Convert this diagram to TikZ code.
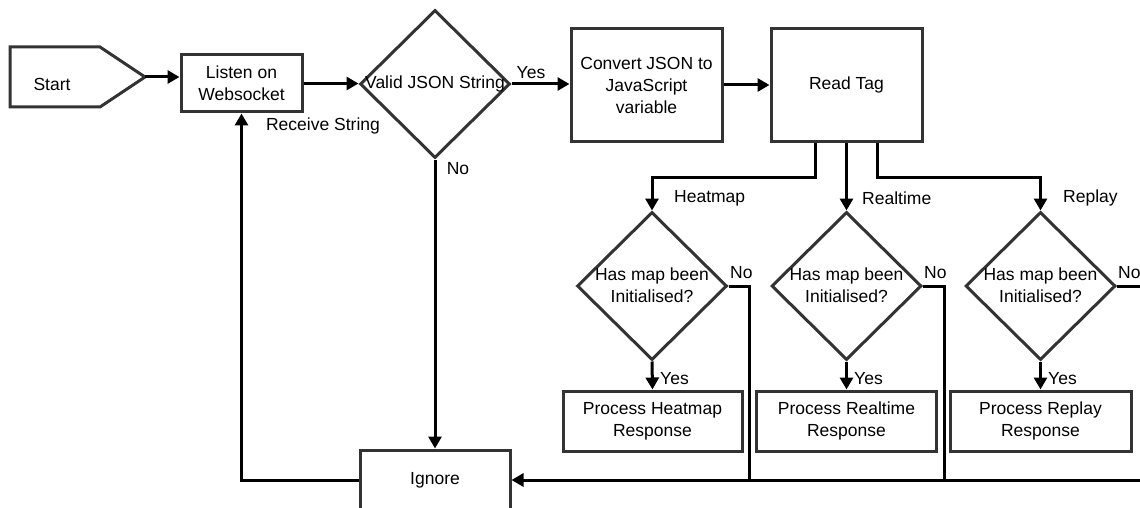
\documentclass[tikz,border=0pt]{standalone}
\usepackage{fontspec}
\setmainfont{Liberation Sans}
\usetikzlibrary{arrows.meta,shapes.geometric}
\begin{document}
\begin{tikzpicture}[x=1pt,y=-1pt,
  font=\fontsize{17.5}{22}\selectfont,
  box/.style={draw=black!80, line width=3pt, rectangle, align=center, inner sep=0pt},
  decision/.style={draw=black!80, line width=3pt, diamond, minimum width=150pt, minimum height=148pt, inner sep=0pt},
  flow/.style={line width=3pt, draw=black},
  arr/.style={flow, -{Triangle[length=12pt,width=13pt]}},
  lbl/.style={inner sep=0pt}]
\useasboundingbox (0,0) rectangle (1140,508);
\clip (0,0) rectangle (1140,508);

% start terminal
\draw[draw=black!80, line width=3pt] (10,47) -- (100,47) -- (145,77) -- (100,107) -- (10,107) -- cycle;
\node (start) at (52,84) {Start};
\coordinate (starttip) at (145,77);

% main chain
\node[box, minimum width=121pt, minimum height=57pt] (listen) at (241.5,83.5) {Listen on\\Websocket};
\node[decision] (valid) at (435,84) {};
\node[lbl] (validtxt) at (435,84) {Valid JSON String};
\node[box, minimum width=151pt, minimum height=113pt] (convert) at (646.5,85) {Convert JSON to\\JavaScript\\variable};
\node[box, minimum width=151pt, minimum height=113pt] (readtag) at (846.5,85) {Read Tag};

% tag branches
\node[decision] (heat) at (652,286) {};
\node[lbl, align=center] (heattxt) at (652,285) {Has map been\\Initialised?};
\node[decision] (real) at (846.5,286) {};
\node[lbl, align=center] (realtxt) at (846.5,285) {Has map been\\Initialised?};
\node[decision] (replay) at (1040.5,286) {};
\node[lbl, align=center] (replaytxt) at (1040.5,285) {Has map been\\Initialised?};

\node[box, minimum width=179pt, minimum height=60pt] (pheat) at (652.5,421) {Process Heatmap\\Response};
\node[box, minimum width=180pt, minimum height=60pt] (preal) at (846.5,421) {Process Realtime\\Response};
\node[box, minimum width=181pt, minimum height=60pt] (preplay) at (1040.5,421) {Process Replay\\Response};

\node[box, minimum width=150pt, minimum height=60pt] (ignore) at (435,480) {Ignore};

% joints of the "No" lines
\coordinate (jh) at (749,480);
\coordinate (jr) at (944.8,480);
\coordinate (far) at (1152,286);

% connectors
\draw[arr] (starttip) -- (starttip -| listen.west);
\draw[arr] (listen.east) -- (listen.east -| valid.west);
\draw[arr] (valid.east) -- (valid.east -| convert.west);
\draw[arr] (convert.east) -- (readtag.west);
\draw[arr] ([xshift=-31pt]readtag.south) -- ++(0,34.5) -| (heat.north);
\draw[arr] (readtag.south) -- (real.north);
\draw[arr] ([xshift=31pt]readtag.south) -- ++(0,34.5) -| (replay.north);
\draw[arr] (heat.south) -- (pheat.north);
\draw[arr] (real.south) -- (preal.north);
\draw[arr] (replay.south) -- (preplay.north);
\draw[flow] (heat.east) -| (jh);
\draw[flow] (real.east) -| (jr);
\draw[arr] (replay.east) -- (far) |- (ignore.east);
\draw[arr] (valid.south) -- (ignore.north);
\draw[arr] (ignore.west) -| (listen.south);

% labels
\node[lbl] (recv) at (323,126) {Receive String};
\node[lbl] (yes0) at (531,73) {Yes};
\node[lbl] (no0) at (458,169) {No};
\node[lbl, anchor=west] (lheat) at (674,198) {Heatmap};
\node[lbl, anchor=west] (lreal) at (862,198) {Realtime};
\node[lbl, anchor=west] (lreplay) at (1063,198) {Replay};
\node[lbl, anchor=west] (noh) at (730,273) {No};
\node[lbl, anchor=west] (nor) at (924,273) {No};
\node[lbl, anchor=west] (norp) at (1118,273) {No};
\node[lbl, anchor=west] (yesh) at (660,379) {Yes};
\node[lbl, anchor=west] (yesr) at (854,379) {Yes};
\node[lbl, anchor=west] (yesrp) at (1048,379) {Yes};
\end{tikzpicture}
\end{document}
